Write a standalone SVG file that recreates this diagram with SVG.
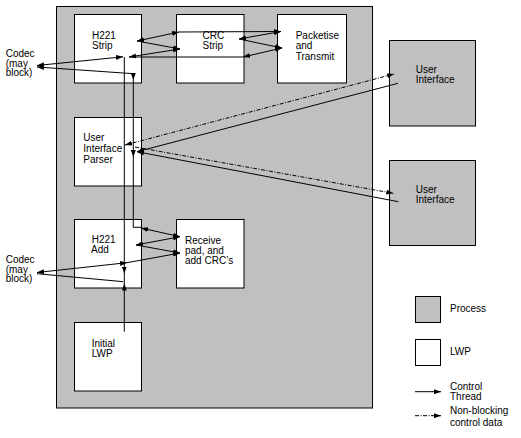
<svg xmlns="http://www.w3.org/2000/svg" width="521" height="438" viewBox="0 0 521 438">
<style>
.proc{fill:#c0c0c0;stroke:#000;stroke-width:1}
.lwp{fill:#fff;stroke:#000;stroke-width:1}
.t{font-family:"Liberation Sans",Arial,sans-serif;font-size:10px;fill:#000}
.c{fill:none;stroke:#000;stroke-width:1}
.d{fill:none;stroke:#000;stroke-width:1;stroke-dasharray:4 1.5 1 1.5}
.a{fill:none;stroke:none}
.me{marker-end:url(#ah)}
.ms{marker-start:url(#ah)}
</style>
<defs>
<marker id="ah" viewBox="0 0 7 5" refX="7" refY="2.5" markerWidth="7" markerHeight="5" markerUnits="userSpaceOnUse" orient="auto-start-reverse">
<path d="M0,0 L7,2.5 L0,5 Z" fill="#000" stroke="none"/>
</marker>
</defs>
<rect width="521" height="438" fill="#fff"/>
<g id="process-main"><rect class="proc" x="56.5" y="6.5" width="316" height="401.5"/></g>
<g id="h221-strip"><rect class="lwp" x="74.5" y="14.5" width="67" height="68.5"/><text class="t" x="92" y="38.5">H221</text><text class="t" x="92" y="48.8">Strip</text></g>
<g id="crc-strip"><rect class="lwp" x="176.5" y="14.5" width="67.5" height="68.5"/><text class="t" x="202.5" y="38.5">CRC</text><text class="t" x="202.5" y="48.8">Strip</text></g>
<g id="packetise"><rect class="lwp" x="277.5" y="14.5" width="69" height="68.5"/><text class="t" x="295.7" y="38.5">Packetise</text><text class="t" x="295.7" y="49.2">and</text><text class="t" x="295.7" y="59.9">Transmit</text></g>
<g id="ui-parser"><rect class="lwp" x="74.5" y="117.5" width="67" height="68.5"/><text class="t" x="83.3" y="140.7">User</text><text class="t" x="83.3" y="151.7">Interface</text><text class="t" x="83.3" y="162.7">Parser</text></g>
<g id="h221-add"><rect class="lwp" x="74.5" y="219.5" width="67" height="68.5"/><text class="t" x="91.7" y="243.3">H221</text><text class="t" x="91" y="253.3">Add</text></g>
<g id="receive"><rect class="lwp" x="176.5" y="219.5" width="67.5" height="68.5"/><text class="t" x="185" y="244">Receive</text><text class="t" x="185" y="254">pad, and</text><text class="t" x="185" y="264">add CRC’s</text></g>
<g id="initial-lwp"><rect class="lwp" x="74.5" y="322.5" width="67" height="68.5"/><text class="t" x="91.7" y="346.7">Initial</text><text class="t" x="91.7" y="356.7">LWP</text></g>
<g id="ui-1"><rect class="proc" x="389.5" y="40.5" width="86" height="85.5"/><text class="t" x="415.7" y="72.7">User</text><text class="t" x="415.7" y="83.3">Interface</text></g>
<g id="ui-2"><rect class="proc" x="389.5" y="160.5" width="86" height="85"/><text class="t" x="415.7" y="192.7">User</text><text class="t" x="415.7" y="203.3">Interface</text></g>
<g id="codec-1"><text class="t" x="5.7" y="56.7">Codec</text><text class="t" x="5.7" y="66.5">(may</text><text class="t" x="5.7" y="76">block)</text></g>
<g id="codec-2"><text class="t" x="5.7" y="262.7">Codec</text><text class="t" x="5.7" y="272.5">(may</text><text class="t" x="5.7" y="282.3">block)</text></g>
<g id="connectors">
<path class="c ms me" d="M37,65.5 L123,56.8"/>
<path class="c ms" d="M37,67 L133.3,73.7 L133.3,227.3 L141,227.3"/>
<path class="a me" d="M133.3,73 V80"/>
<path class="a me" d="M133.3,150 V157"/>
<path class="c" d="M124.3,57 V331.7"/>
<path class="a me" d="M124.3,266 V273.5"/>
<path class="a me" d="M124.3,291 V283.5"/>
<path class="c ms me" d="M137,41 L179,32"/>
<path class="c me" d="M137,41 L180,49"/>
<path class="c ms me" d="M129,57 L180,49"/>
<path class="c" d="M129,57 H243"/>
<path class="c me" d="M179,32 L281,31.5"/>
<path class="c ms me" d="M239,39 L281,31.5"/>
<path class="c me" d="M239,39 L282,48"/>
<path class="c ms me" d="M243,57 L282,48"/>
<path class="c ms me" d="M141,228 L180,236.7"/>
<path class="c ms me" d="M136,245 L180,236.7"/>
<path class="c me" d="M136,245 L180,253"/>
<path class="c me" d="M127,262.7 L180,253"/>
<path class="c ms me" d="M37,272.5 L127,262.7"/>
<path class="c" d="M37,273.7 L123.3,281.7"/>
<path class="d ms me" d="M125,145 L394,74"/>
<path class="c me" d="M398,83.3 L137,151.7"/>
<path class="c me" d="M398.3,201.7 L137,151.7"/>
<path class="d me" d="M135,147 L393.3,193.3"/>
</g>
<g id="legend">
<rect class="proc" x="415.5" y="296.5" width="25" height="26"/>
<text class="t" x="450" y="312.3">Process</text>
<rect class="lwp" x="415.5" y="339.5" width="25" height="26"/>
<text class="t" x="450" y="355">LWP</text>
<path class="c me" d="M415,391.7 H441"/>
<text class="t" x="450" y="390">Control</text>
<text class="t" x="450" y="400">Thread</text>
<path class="d me" d="M415,415.7 H441"/>
<text class="t" x="450" y="414">Non-blocking</text>
<text class="t" x="450" y="425.5">control data</text>
</g>
</svg>
